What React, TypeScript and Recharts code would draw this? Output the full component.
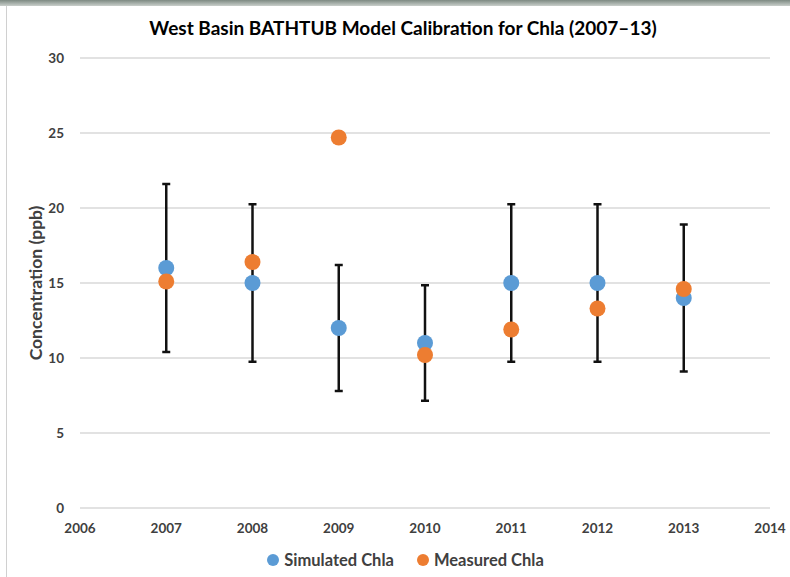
import React from 'react';
import {
  ScatterChart,
  Scatter,
  XAxis,
  YAxis,
  CartesianGrid,
  ErrorBar,
  Legend,
  Label,
} from 'recharts';

// Calibration years and chlorophyll-a concentrations (ppb)
const years = [2007, 2008, 2009, 2010, 2011, 2012, 2013];
const simulatedChla = [16, 15, 12, 11, 15, 15, 14];
const simulatedError = [5.6, 5.25, 4.2, 3.85, 5.25, 5.25, 4.9];
const measuredChla = [15.1, 16.4, 24.7, 10.2, 11.9, 13.3, 14.6];

const xTicks = [2006, 2007, 2008, 2009, 2010, 2011, 2012, 2013, 2014];
const yTicks = [0, 5, 10, 15, 20, 25, 30];

const simulatedData = years.map((year, i) => ({
  year,
  value: simulatedChla[i],
  err: simulatedError[i],
}));
const measuredData = years.map((year, i) => ({ year, value: measuredChla[i] }));

const BLUE = '#5B9BD5';
const ORANGE = '#ED7D31';
const FONT = 'Lato, "Open Sans", sans-serif';
const TEXT = '#404040';

const dot = (color: string) => (props: any) => (
  <circle cx={props.cx} cy={props.cy} r={8} fill={color} />
);

const legendItems = [
  { label: 'Simulated Chla', color: BLUE },
  { label: 'Measured Chla', color: ORANGE },
];

const renderLegend = () => (
  <div
    style={{
      display: 'flex',
      justifyContent: 'center',
      gap: 22,
      fontFamily: FONT,
      fontWeight: 700,
      fontSize: 16.5,
      color: TEXT,
      paddingLeft: 10,
    }}
  >
    {legendItems.map((item) => (
      <span key={item.label} style={{ display: 'flex', alignItems: 'center' }}>
        <svg width={14} height={14} style={{ marginRight: 4 }}>
          <circle cx={7} cy={7} r={6} fill={item.color} />
        </svg>
        {item.label}
      </span>
    ))}
  </div>
);

const renderYLabel = (props: any) => {
  const { viewBox } = props;
  const x = viewBox.x + viewBox.width - 45;
  const y = viewBox.y + viewBox.height / 2;
  return (
    <text
      x={x}
      y={y}
      transform={`rotate(-90, ${x}, ${y})`}
      textAnchor="middle"
      dominantBaseline="central"
      fontFamily={FONT}
      fontWeight={700}
      fontSize={17.5}
      fill={TEXT}
    >
      Concentration (ppb)
    </text>
  );
};

export default function App() {
  return (
    <div
      style={{
        position: 'absolute',
        left: 0,
        top: 0,
        width: 790,
        height: 577,
        background: '#fff',
        overflow: 'hidden',
      }}
    >
      <div
        style={{
          position: 'absolute',
          left: 0,
          top: 0,
          width: 790,
          height: 6,
          background: 'linear-gradient(#7d8a82, #c9cfcb)',
        }}
      />
      <div
        style={{
          position: 'absolute',
          left: 6,
          top: 6,
          width: 1,
          height: 571,
          background: '#d0d0d0',
        }}
      />
      <div
        style={{
          position: 'absolute',
          left: 0,
          top: 16,
          width: 806,
          textAlign: 'center',
          fontFamily: FONT,
          fontWeight: 700,
          fontSize: 19,
          color: '#000',
        }}
      >
        West Basin BATHTUB Model Calibration for Chla (2007–13)
      </div>
      <ScatterChart
        width={790}
        height={577}
        margin={{ top: 58, right: 20, bottom: 7, left: 30 }}
      >
        <CartesianGrid horizontal vertical={false} stroke="#d9d9d9" strokeWidth={1.5} />
        <XAxis
          type="number"
          dataKey="year"
          domain={[2006, 2014]}
          ticks={xTicks}
          axisLine={false}
          tickLine={false}
          tickSize={0}
          tickMargin={15}
          height={42}
          allowDecimals={false}
          tick={{ fontFamily: FONT, fontWeight: 700, fontSize: 13.5, fill: TEXT }}
        />
        <YAxis
          type="number"
          dataKey="value"
          domain={[0, 30]}
          ticks={yTicks}
          axisLine={false}
          tickLine={false}
          tickSize={0}
          tickMargin={16}
          width={50}
          tick={{ fontFamily: FONT, fontWeight: 700, fontSize: 13.5, fill: TEXT }}
        >
          <Label content={renderYLabel} />
        </YAxis>
        <Legend verticalAlign="bottom" height={20} content={renderLegend} />
        <Scatter
          name="Simulated Chla"
          data={simulatedData}
          fill={BLUE}
          shape={dot(BLUE)}
          isAnimationActive={false}
        >
          <ErrorBar
            dataKey="err"
            direction="y"
            stroke="#111"
            strokeWidth={2.5}
            width={4}
            isAnimationActive={false}
          />
        </Scatter>
        <Scatter
          name="Measured Chla"
          data={measuredData}
          fill={ORANGE}
          shape={dot(ORANGE)}
          isAnimationActive={false}
        />
      </ScatterChart>
    </div>
  );
}
